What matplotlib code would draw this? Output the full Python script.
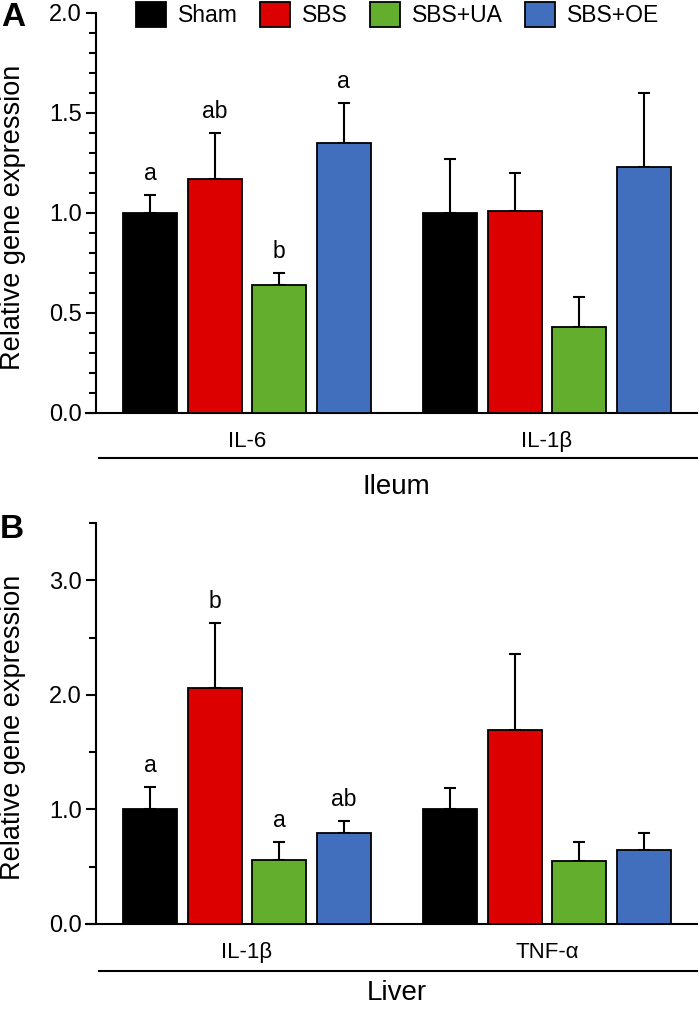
import matplotlib
matplotlib.use("Agg")
import matplotlib.pyplot as plt
import numpy as np
from matplotlib.ticker import MultipleLocator, FormatStrFormatter
from matplotlib.patches import Patch
from matplotlib.lines import Line2D

plt.rcParams['font.family'] = ['Liberation Sans', 'DejaVu Sans']

groups = ["Sham", "SBS", "SBS+UA", "SBS+OE"]
colors = ["#000000", "#dd0000", "#63ae2c", "#416fbe"]

# Panel A: Ileum
genes_a = ["IL-6", "IL-1\u03b2"]
mean_a = {"Sham": [1.00, 1.00], "SBS": [1.17, 1.01], "SBS+UA": [0.64, 0.43], "SBS+OE": [1.35, 1.23]}
sem_a = {"Sham": [0.09, 0.27], "SBS": [0.23, 0.19], "SBS+UA": [0.06, 0.15], "SBS+OE": [0.20, 0.37]}
letters_a = {"Sham": ["a", ""], "SBS": ["ab", ""], "SBS+UA": ["b", ""], "SBS+OE": ["a", ""]}

# Panel B: Liver
genes_b = ["IL-1\u03b2", "TNF-\u03b1"]
mean_b = {"Sham": [1.00, 1.00], "SBS": [2.06, 1.69], "SBS+UA": [0.56, 0.55], "SBS+OE": [0.79, 0.65]}
sem_b = {"Sham": [0.20, 0.19], "SBS": [0.57, 0.67], "SBS+UA": [0.155, 0.17], "SBS+OE": [0.11, 0.14]}
letters_b = {"Sham": ["a", ""], "SBS": ["b", ""], "SBS+UA": ["a", ""], "SBS+OE": ["ab", ""]}

W, H = 700, 1010
fig = plt.figure(figsize=(W / 100, H / 100), dpi=100)

def px_axes(x0, y0, x1, y1):
    return fig.add_axes([x0 / W, 1 - y1 / H, (x1 - x0) / W, (y1 - y0) / H])

step = 0.215
bw = 0.18

def draw_panel(ax, genes, means, sems, letters, ymax, major, minor, tissue, underline_y, cat_y, tissue_y):
    x = np.arange(len(genes))
    for i, g in enumerate(groups):
        xs = x + (i - 1.5) * step
        ax.bar(xs, means[g], width=bw, color=colors[i], edgecolor="black", linewidth=1.3, zorder=3)
        ax.errorbar(xs, means[g], yerr=[np.zeros(len(genes)), sems[g]], fmt="none",
                    ecolor="black", elinewidth=1.5, capsize=4, capthick=1.5, zorder=2)
        for j in range(len(genes)):
            if letters[g][j]:
                ax.annotate(letters[g][j], (xs[j], means[g][j] + sems[g][j]), xytext=(0, 7),
                            textcoords="offset points", ha="center", va="bottom", fontsize=16.5)
    ax.set_xlim(-0.503, 1.5)
    ax.set_ylim(0, ymax)
    ax.yaxis.set_major_locator(MultipleLocator(major))
    ax.yaxis.set_minor_locator(MultipleLocator(minor))
    ax.yaxis.set_major_formatter(FormatStrFormatter("%.1f"))
    for s in ["top", "right"]:
        ax.spines[s].set_visible(False)
    ax.spines["left"].set_linewidth(1.5)
    ax.spines["bottom"].set_linewidth(1.5)
    ax.spines["bottom"].set_bounds(-0.535, 1.5)
    ax.set_xticks([])
    ax.tick_params(axis="y", which="major", length=7, width=1.5, labelsize=17, pad=3)
    ax.tick_params(axis="y", which="minor", length=5, width=1.5)
    ax.set_ylabel("Relative gene expression", fontsize=19.5)
    ax.yaxis.set_label_coords(-0.117, 0.49)
    for j, gname in enumerate(genes):
        ax.text(x[j], cat_y, gname, transform=ax.get_xaxis_transform(), ha="center", va="center", fontsize=16)
    ax.add_line(Line2D([0.005, 1.0], [underline_y, underline_y], transform=ax.transAxes,
                       color="black", linewidth=1.5, clip_on=False))
    ax.text(0.5, tissue_y, tissue, transform=ax.transAxes, ha="center", va="center", fontsize=20)

axA = px_axes(96, 13, 697, 413)
draw_panel(axA, genes_a, mean_a, sem_a, letters_a, 2.0, 0.5, 0.1, "Ileum", -0.1125, -0.0725, -0.185)

axB = px_axes(96, 523, 697, 924)
draw_panel(axB, genes_b, mean_b, sem_b, letters_b, 3.5, 1.0, 0.5, "Liver", -0.117, -0.07, -0.172)

fig.text(13 / W, 1 - 17 / H, "A", fontsize=24, fontweight="bold", ha="center", va="center")
fig.text(12 / W, 1 - 530 / H, "B", fontsize=24, fontweight="bold", ha="center", va="center")

handles = [Patch(facecolor=c, edgecolor="black", linewidth=1.3) for c in colors]
fig.legend(handles, groups, loc="upper left", bbox_to_anchor=(134 / W, 1.0), ncol=4, frameon=False,
           fontsize=16.5, handlelength=1.3, handleheight=1.3, handletextpad=0.5, columnspacing=1.0,
           borderpad=0, borderaxespad=0.1)

fig.savefig("out.png", dpi=100)
